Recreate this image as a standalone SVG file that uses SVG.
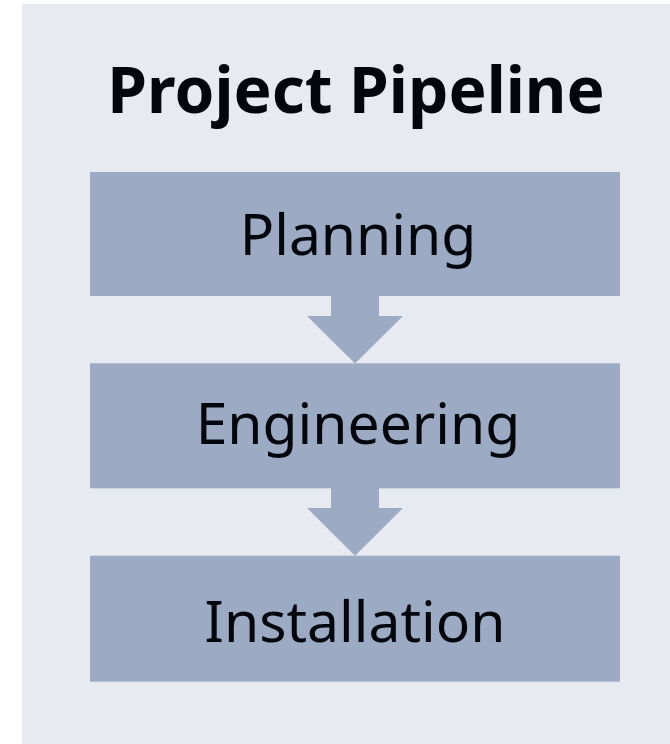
<svg xmlns="http://www.w3.org/2000/svg" width="670" height="744" viewBox="0 0 670 744">
<style>
.box{fill:#9CAAC3}
.lbl{font-family:"Noto Sans","Open Sans",sans-serif;font-size:57px;fill:#03070D;text-anchor:middle}
.title{font-family:"Noto Sans","Open Sans",sans-serif;font-size:64px;font-weight:bold;fill:#03070D;text-anchor:middle}
.arr{fill:#9CAAC3}
</style>
<rect x="0" y="0" width="670" height="744" fill="#FFFFFF"/>
<rect x="22" y="4" width="648" height="740" fill="#E7EAF0"/>
<text class="title" x="356" y="112.7">Project Pipeline</text>
<g id="connectors">
<polygon class="arr" points="331,295 379,295 379,316 403,316 355,363.5 307,316 331,316"/>
<polygon class="arr" points="331,487 379,487 379,508 403,508 355,555.7 307,508 331,508"/>
</g>
<g id="planning">
<rect class="box" x="90" y="172" width="530" height="124"/>
<text class="lbl" x="358" y="255">Planning</text>
</g>
<g id="engineering">
<rect class="box" x="90" y="363.3" width="530" height="125"/>
<text class="lbl" x="358" y="444">Engineering</text>
</g>
<g id="installation">
<rect class="box" x="90" y="555.7" width="530" height="126"/>
<text class="lbl" x="355" y="641.7">Installation</text>
</g>
</svg>
